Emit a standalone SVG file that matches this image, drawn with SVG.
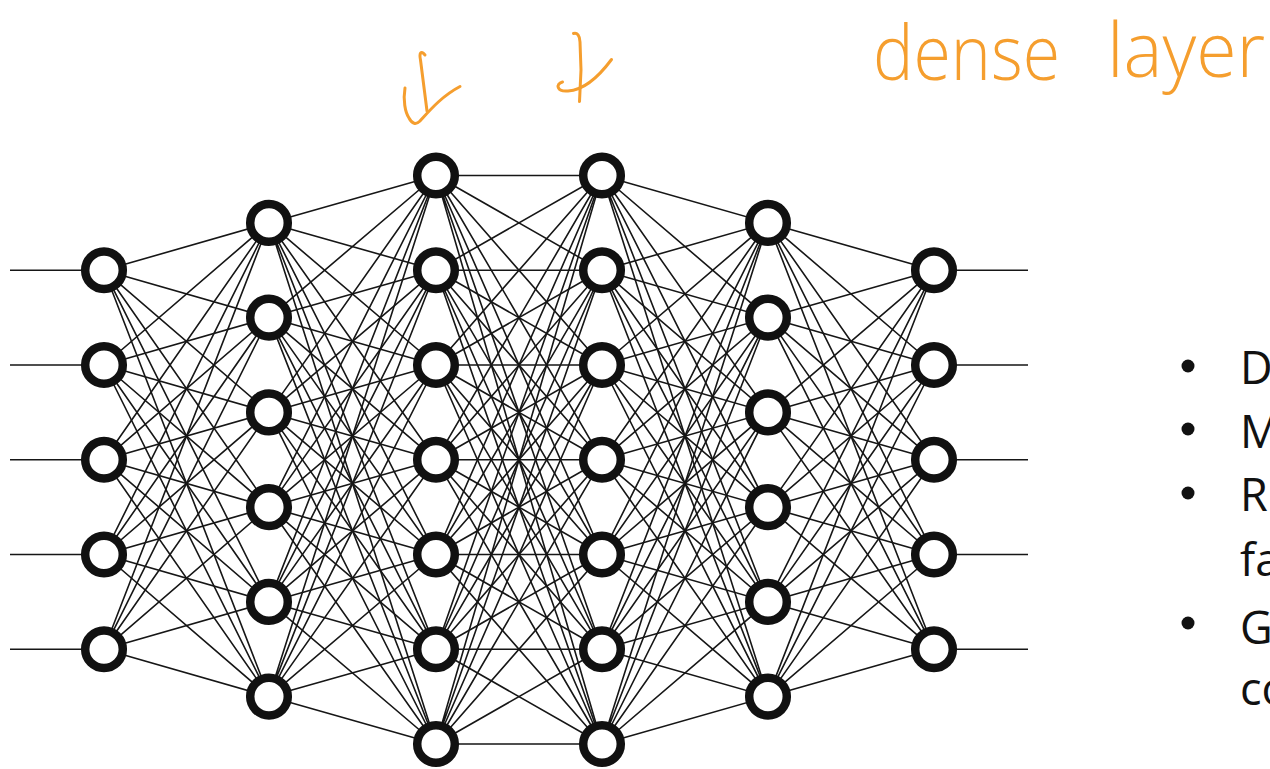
<svg xmlns="http://www.w3.org/2000/svg" width="1270" height="769" viewBox="0 0 1270 769">
  <style>
    .edge { fill: none; stroke: #161616; stroke-width: 1.6; }
    .node { fill: #ffffff; stroke: #111111; stroke-width: 8.5; }
    .ink { fill: none; stroke: #F59E2E; stroke-width: 3; stroke-linecap: round; stroke-linejoin: round; }
    .hand { font-family: "Open Sans", "DejaVu Sans", sans-serif; font-weight: 300; fill: #F59E2E; }
    .body { font-family: "Open Sans", "Liberation Sans", sans-serif; font-size: 45px; fill: #111111; }
    .dot { fill: #111111; }
  </style>
  <rect width="1270" height="769" fill="#ffffff"/>

  <!-- handwritten annotation -->
  <g id="annotation">
    <text class="hand" font-size="76" x="873" y="80" textLength="187" lengthAdjust="spacingAndGlyphs">dense</text>
    <text class="hand" font-size="76" x="1107" y="77" textLength="158" lengthAdjust="spacingAndGlyphs">layer</text>
    <path class="ink" d="M425 55 C421 50 419 53 420.5 60 L427 111"/>
    <path class="ink" d="M405 88 C403 100 405 112 409 118 C412 124 416 125 420 121 C430 110 442 96 460 86.5"/>
    <path class="ink" d="M573.5 33.5 C577 32 580 36 580 42 L581 70 L579.5 101.5"/>
    <path class="ink" d="M562.5 82 C555 84 557 92 568 91 C585 90 600 75 611.5 59.5"/>
  </g>

  <!-- connections between layers -->
  <g id="connectors" class="edge">
    <!-- inputs and outputs -->
    <path d="M10 270.3H104M10 365H104M10 459.8H104M10 554.5H104M10 649.3H104"/>
    <path d="M934 270.3H1028M934 365H1028M934 459.8H1028M934 554.5H1028M934 649.3H1028"/>
    <!-- layer 1 to layer 2 -->
    <path d="M104 270.3L269 222.9M104 270.3L269 317.6M104 270.3L269 412.4M104 270.3L269 507.1M104 270.3L269 601.9M104 270.3L269 696.6"/>
    <path d="M104 365L269 222.9M104 365L269 317.6M104 365L269 412.4M104 365L269 507.1M104 365L269 601.9M104 365L269 696.6"/>
    <path d="M104 459.8L269 222.9M104 459.8L269 317.6M104 459.8L269 412.4M104 459.8L269 507.1M104 459.8L269 601.9M104 459.8L269 696.6"/>
    <path d="M104 554.5L269 222.9M104 554.5L269 317.6M104 554.5L269 412.4M104 554.5L269 507.1M104 554.5L269 601.9M104 554.5L269 696.6"/>
    <path d="M104 649.3L269 222.9M104 649.3L269 317.6M104 649.3L269 412.4M104 649.3L269 507.1M104 649.3L269 601.9M104 649.3L269 696.6"/>
    <!-- layer 2 to layer 3 -->
    <path d="M269 222.9L436 175.5M269 222.9L436 270.3M269 222.9L436 365M269 222.9L436 459.8M269 222.9L436 554.5M269 222.9L436 649.3M269 222.9L436 744"/>
    <path d="M269 317.6L436 175.5M269 317.6L436 270.3M269 317.6L436 365M269 317.6L436 459.8M269 317.6L436 554.5M269 317.6L436 649.3M269 317.6L436 744"/>
    <path d="M269 412.4L436 175.5M269 412.4L436 270.3M269 412.4L436 365M269 412.4L436 459.8M269 412.4L436 554.5M269 412.4L436 649.3M269 412.4L436 744"/>
    <path d="M269 507.1L436 175.5M269 507.1L436 270.3M269 507.1L436 365M269 507.1L436 459.8M269 507.1L436 554.5M269 507.1L436 649.3M269 507.1L436 744"/>
    <path d="M269 601.9L436 175.5M269 601.9L436 270.3M269 601.9L436 365M269 601.9L436 459.8M269 601.9L436 554.5M269 601.9L436 649.3M269 601.9L436 744"/>
    <path d="M269 696.6L436 175.5M269 696.6L436 270.3M269 696.6L436 365M269 696.6L436 459.8M269 696.6L436 554.5M269 696.6L436 649.3M269 696.6L436 744"/>
    <!-- layer 3 to layer 4 -->
    <path d="M436 175.5L602 175.5M436 175.5L602 270.3M436 175.5L602 365M436 175.5L602 459.8M436 175.5L602 554.5M436 175.5L602 649.3M436 175.5L602 744"/>
    <path d="M436 270.3L602 175.5M436 270.3L602 270.3M436 270.3L602 365M436 270.3L602 459.8M436 270.3L602 554.5M436 270.3L602 649.3M436 270.3L602 744"/>
    <path d="M436 365L602 175.5M436 365L602 270.3M436 365L602 365M436 365L602 459.8M436 365L602 554.5M436 365L602 649.3M436 365L602 744"/>
    <path d="M436 459.8L602 175.5M436 459.8L602 270.3M436 459.8L602 365M436 459.8L602 459.8M436 459.8L602 554.5M436 459.8L602 649.3M436 459.8L602 744"/>
    <path d="M436 554.5L602 175.5M436 554.5L602 270.3M436 554.5L602 365M436 554.5L602 459.8M436 554.5L602 554.5M436 554.5L602 649.3M436 554.5L602 744"/>
    <path d="M436 649.3L602 175.5M436 649.3L602 270.3M436 649.3L602 365M436 649.3L602 459.8M436 649.3L602 554.5M436 649.3L602 649.3M436 649.3L602 744"/>
    <path d="M436 744L602 175.5M436 744L602 270.3M436 744L602 365M436 744L602 459.8M436 744L602 554.5M436 744L602 649.3M436 744L602 744"/>
    <!-- layer 4 to layer 5 -->
    <path d="M602 175.5L768 222.9M602 175.5L768 317.6M602 175.5L768 412.4M602 175.5L768 507.1M602 175.5L768 601.9M602 175.5L768 696.6"/>
    <path d="M602 270.3L768 222.9M602 270.3L768 317.6M602 270.3L768 412.4M602 270.3L768 507.1M602 270.3L768 601.9M602 270.3L768 696.6"/>
    <path d="M602 365L768 222.9M602 365L768 317.6M602 365L768 412.4M602 365L768 507.1M602 365L768 601.9M602 365L768 696.6"/>
    <path d="M602 459.8L768 222.9M602 459.8L768 317.6M602 459.8L768 412.4M602 459.8L768 507.1M602 459.8L768 601.9M602 459.8L768 696.6"/>
    <path d="M602 554.5L768 222.9M602 554.5L768 317.6M602 554.5L768 412.4M602 554.5L768 507.1M602 554.5L768 601.9M602 554.5L768 696.6"/>
    <path d="M602 649.3L768 222.9M602 649.3L768 317.6M602 649.3L768 412.4M602 649.3L768 507.1M602 649.3L768 601.9M602 649.3L768 696.6"/>
    <path d="M602 744L768 222.9M602 744L768 317.6M602 744L768 412.4M602 744L768 507.1M602 744L768 601.9M602 744L768 696.6"/>
    <!-- layer 5 to layer 6 -->
    <path d="M768 222.9L934 270.3M768 222.9L934 365M768 222.9L934 459.8M768 222.9L934 554.5M768 222.9L934 649.3"/>
    <path d="M768 317.6L934 270.3M768 317.6L934 365M768 317.6L934 459.8M768 317.6L934 554.5M768 317.6L934 649.3"/>
    <path d="M768 412.4L934 270.3M768 412.4L934 365M768 412.4L934 459.8M768 412.4L934 554.5M768 412.4L934 649.3"/>
    <path d="M768 507.1L934 270.3M768 507.1L934 365M768 507.1L934 459.8M768 507.1L934 554.5M768 507.1L934 649.3"/>
    <path d="M768 601.9L934 270.3M768 601.9L934 365M768 601.9L934 459.8M768 601.9L934 554.5M768 601.9L934 649.3"/>
    <path d="M768 696.6L934 270.3M768 696.6L934 365M768 696.6L934 459.8M768 696.6L934 554.5M768 696.6L934 649.3"/>
  </g>

  <!-- neurons, one group per layer -->
  <g id="layer1">
    <g id="n1-1"><circle class="node" cx="104" cy="270.3" r="18.8"/></g>
    <g id="n1-2"><circle class="node" cx="104" cy="365" r="18.8"/></g>
    <g id="n1-3"><circle class="node" cx="104" cy="459.8" r="18.8"/></g>
    <g id="n1-4"><circle class="node" cx="104" cy="554.5" r="18.8"/></g>
    <g id="n1-5"><circle class="node" cx="104" cy="649.3" r="18.8"/></g>
  </g>
  <g id="layer2">
    <g id="n2-1"><circle class="node" cx="269" cy="222.9" r="18.8"/></g>
    <g id="n2-2"><circle class="node" cx="269" cy="317.6" r="18.8"/></g>
    <g id="n2-3"><circle class="node" cx="269" cy="412.4" r="18.8"/></g>
    <g id="n2-4"><circle class="node" cx="269" cy="507.1" r="18.8"/></g>
    <g id="n2-5"><circle class="node" cx="269" cy="601.9" r="18.8"/></g>
    <g id="n2-6"><circle class="node" cx="269" cy="696.6" r="18.8"/></g>
  </g>
  <g id="layer3">
    <g id="n3-1"><circle class="node" cx="436" cy="175.5" r="18.8"/></g>
    <g id="n3-2"><circle class="node" cx="436" cy="270.3" r="18.8"/></g>
    <g id="n3-3"><circle class="node" cx="436" cy="365" r="18.8"/></g>
    <g id="n3-4"><circle class="node" cx="436" cy="459.8" r="18.8"/></g>
    <g id="n3-5"><circle class="node" cx="436" cy="554.5" r="18.8"/></g>
    <g id="n3-6"><circle class="node" cx="436" cy="649.3" r="18.8"/></g>
    <g id="n3-7"><circle class="node" cx="436" cy="744" r="18.8"/></g>
  </g>
  <g id="layer4">
    <g id="n4-1"><circle class="node" cx="602" cy="175.5" r="18.8"/></g>
    <g id="n4-2"><circle class="node" cx="602" cy="270.3" r="18.8"/></g>
    <g id="n4-3"><circle class="node" cx="602" cy="365" r="18.8"/></g>
    <g id="n4-4"><circle class="node" cx="602" cy="459.8" r="18.8"/></g>
    <g id="n4-5"><circle class="node" cx="602" cy="554.5" r="18.8"/></g>
    <g id="n4-6"><circle class="node" cx="602" cy="649.3" r="18.8"/></g>
    <g id="n4-7"><circle class="node" cx="602" cy="744" r="18.8"/></g>
  </g>
  <g id="layer5">
    <g id="n5-1"><circle class="node" cx="768" cy="222.9" r="18.8"/></g>
    <g id="n5-2"><circle class="node" cx="768" cy="317.6" r="18.8"/></g>
    <g id="n5-3"><circle class="node" cx="768" cy="412.4" r="18.8"/></g>
    <g id="n5-4"><circle class="node" cx="768" cy="507.1" r="18.8"/></g>
    <g id="n5-5"><circle class="node" cx="768" cy="601.9" r="18.8"/></g>
    <g id="n5-6"><circle class="node" cx="768" cy="696.6" r="18.8"/></g>
  </g>
  <g id="layer6">
    <g id="n6-1"><circle class="node" cx="934" cy="270.3" r="18.8"/></g>
    <g id="n6-2"><circle class="node" cx="934" cy="365" r="18.8"/></g>
    <g id="n6-3"><circle class="node" cx="934" cy="459.8" r="18.8"/></g>
    <g id="n6-4"><circle class="node" cx="934" cy="554.5" r="18.8"/></g>
    <g id="n6-5"><circle class="node" cx="934" cy="649.3" r="18.8"/></g>
  </g>

  <!-- bullet list, running past the right edge -->
  <g id="bullets">
    <circle class="dot" cx="1188" cy="366" r="6.5"/>
    <circle class="dot" cx="1188" cy="429" r="6.5"/>
    <circle class="dot" cx="1188" cy="493" r="6.5"/>
    <circle class="dot" cx="1188" cy="623" r="6.5"/>
    <text class="body" x="1240" y="384">D</text>
    <text class="body" x="1240" y="448">M</text>
    <text class="body" x="1240" y="511">R</text>
    <text class="body" x="1240" y="576">fa</text>
    <text class="body" x="1240" y="644">G</text>
    <text class="body" x="1240" y="705">co</text>
  </g>
</svg>
